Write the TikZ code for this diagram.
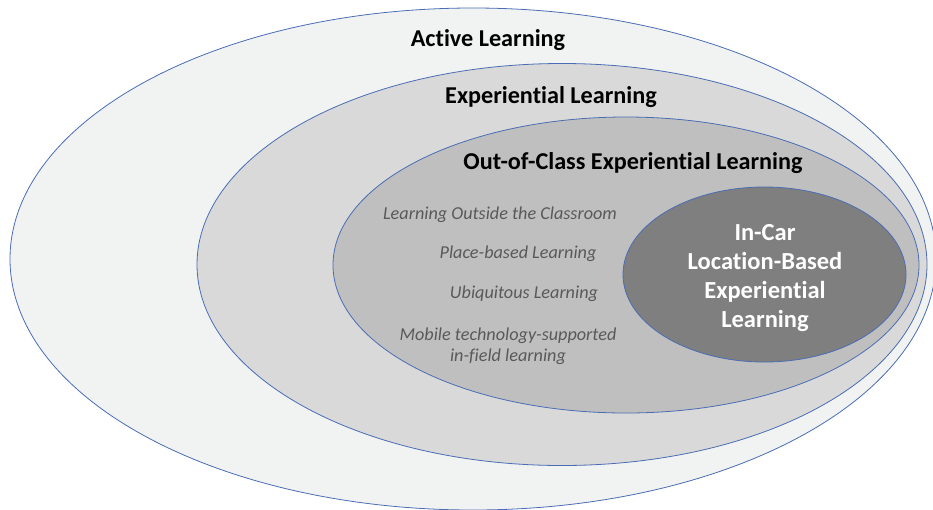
\documentclass[tikz,border=0pt]{standalone}
\usepackage{fontspec}
\setmainfont[Ligatures={NoCommon}]{Carlito}
\usetikzlibrary{shapes.geometric}
\definecolor{edgeblue}{HTML}{4A6DB5}
\definecolor{fillA}{HTML}{F1F2F2}
\definecolor{fillB}{HTML}{D9D9D9}
\definecolor{fillC}{HTML}{BFBFBF}
\definecolor{fillD}{HTML}{7F7F7F}
\definecolor{itgray}{HTML}{595959}
\begin{document}
\begin{tikzpicture}[x=1pt,y=-1pt,
  ring/.style={ellipse, draw=edgeblue, line width=0.8pt, inner sep=0pt},
  heading/.style={font=\fontsize{24.2}{28}\selectfont\bfseries, text=black},
  sublabel/.style={font=\fontsize{18.2}{21}\selectfont\itshape, text=itgray},
  core/.style={font=\fontsize{24.5}{29}\selectfont\bfseries, text=white, align=center}]
\useasboundingbox (0,0) rectangle (933,509);
\node[ring, fill=fillA, minimum width=926pt, minimum height=502pt] (active) at (473,259) {};
\node[ring, fill=fillB, minimum width=730pt, minimum height=402pt] (exper) at (562,264.5) {};
\node[ring, fill=fillC, minimum width=586pt, minimum height=296pt] (outclass) at (626,265) {};
\node[ring, fill=fillD, minimum width=283pt, minimum height=175pt] (incar) at (764.5,274.5) {};
\node[heading] (tA) at (488,40) {Active Learning};
\node[heading] (tB) at (551,97) {Experiential Learning};
\node[heading] (tC) at (633,163.5) {Out-of-Class Experiential Learning};
\node[sublabel] (s1) at (500,215) {Learning Outside the Classroom};
\node[sublabel] (s2) at (518,254) {Place-based Learning};
\node[sublabel] (s3) at (524,294) {Ubiquitous Learning};
\node[sublabel, align=center] (s4) at (508,346) {Mobile technology-supported\\in-field learning};
\node[core] (tD) at (765,278) {In-Car\\Location-Based\\Experiential\\Learning};
\end{tikzpicture}
\end{document}
